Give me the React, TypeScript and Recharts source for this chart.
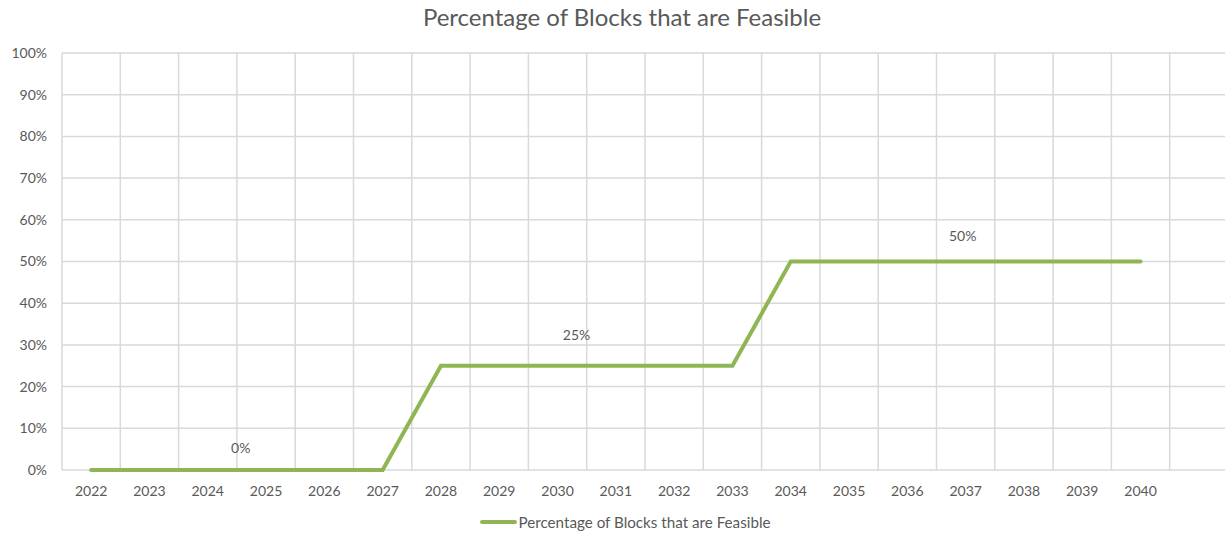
import { CartesianGrid, LabelList, Legend, Line, LineChart, XAxis, YAxis } from 'recharts';

const years = ['2022', '2023', '2024', '2025', '2026', '2027', '2028', '2029', '2030', '2031', '2032', '2033', '2034', '2035', '2036', '2037', '2038', '2039', '2040', ''];
const feasible = [0, 0, 0, 0, 0, 0, 25, 25, 25, 25, 25, 25, 50, 50, 50, 50, 50, 50, 50, null];
const yTicks = [0, 10, 20, 30, 40, 50, 60, 70, 80, 90, 100];
const annotations = [
	{ year: '2024', text: '0%' },
	{ year: '2030', text: '25%' },
	{ year: '2037', text: '50%' }
];

// manual text-box nudges, as in the original sheet
const annotationOffset: Record<string, { dx: number; dy: number }> = {
	'2024': { dx: 33, dy: -23 },
	'2030': { dx: 19, dy: -31 },
	'2037': { dx: -3, dy: -26 }
};

const data = years.map((year, i) => ({ year, value: feasible[i] }));

const GREEN = '#8fb654';
const TEXT = '#595959';
const GRID = '#d9d9d9';
const FONT = 'Lato, "Open Sans", sans-serif';

function Annotation(props: any) {
	const { x, y, index } = props;
	const year = years[index];
	const note = annotations.find((a) => a.year === year);
	if (!note || x == null || y == null) return null;
	const off = annotationOffset[year];
	return (
		<text x={x + off.dx} y={y + off.dy} textAnchor="middle" dominantBaseline="central" fill={TEXT} fontSize={14} fontFamily={FONT}>
			{note.text}
		</text>
	);
}

function LegendContent() {
	return (
		<div
			style={{
				display: 'flex',
				justifyContent: 'center',
				alignItems: 'center',
				height: 20,
				paddingLeft: 22,
				fontFamily: FONT,
				fontSize: 15.2,
				lineHeight: '20px',
				color: TEXT
			}}
		>
			<span style={{ display: 'inline-block', width: 37, height: 4, background: GREEN, borderRadius: 2, marginRight: 2 }} />
			<span>Percentage of Blocks that are Feasible</span>
		</div>
	);
}

export default function App() {
	return (
		<div style={{ position: 'absolute', top: 0, left: 0, width: 1225, height: 536, overflow: 'hidden', background: '#fff' }}>
			<div
				style={{
					position: 'absolute',
					top: 2,
					left: 0,
					width: 1244,
					textAlign: 'center',
					fontFamily: FONT,
					fontSize: 24,
					color: TEXT
				}}
			>
				Percentage of Blocks that are Feasible
			</div>
			<LineChart width={1228} height={536} data={data} margin={{ top: 53, right: 0, bottom: 0, left: 0 }}>
				<CartesianGrid
					stroke={GRID}
					strokeWidth={1.5}
					verticalCoordinatesGenerator={({ offset }: any) =>
						Array.from({ length: years.length + 1 }, (_, i) => offset.left + (i * offset.width) / years.length)
					}
				/>
				<XAxis
					dataKey="year"
					scale="band"
					axisLine={false}
					tickLine={false}
					tickSize={8}
					tickMargin={8}
					height={36}
					interval={0}
					tick={{ fontSize: 14, fill: TEXT, fontFamily: FONT }}
				/>
				<YAxis
					domain={[0, 100]}
					ticks={yTicks}
					width={62}
					axisLine={false}
					tickLine={false}
					tickSize={8}
					tickMargin={7}
					tickFormatter={(v) => `${v}%`}
					tick={{ fontSize: 14, fill: TEXT, fontFamily: FONT }}
				/>
				<Legend
					verticalAlign="bottom"
					height={30}
					wrapperStyle={{ bottom: -6, paddingTop: 0, overflow: 'visible' }}
					content={<LegendContent />}
				/>
				<Line
					type="linear"
					dataKey="value"
					name="Percentage of Blocks that are Feasible"
					stroke={GREEN}
					strokeWidth={4}
					dot={false}
					activeDot={false}
					strokeLinecap="round"
					isAnimationActive={false}
				>
					<LabelList dataKey="value" content={<Annotation />} />
				</Line>
			</LineChart>
		</div>
	);
}
